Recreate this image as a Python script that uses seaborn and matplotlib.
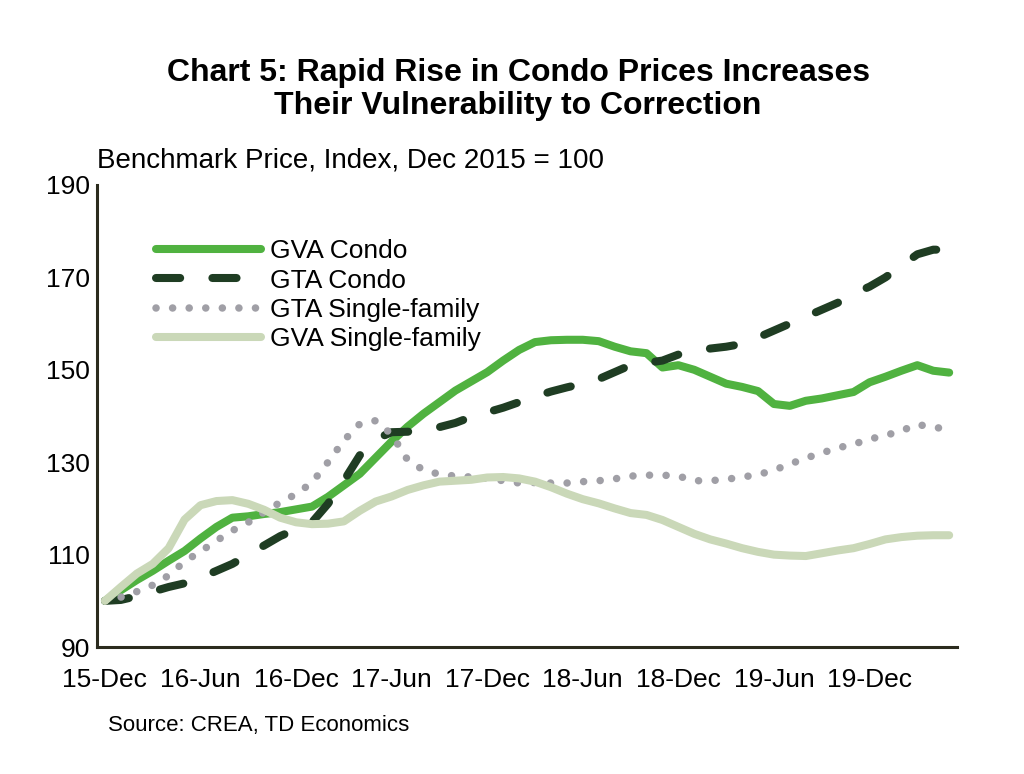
import numpy as np
import pandas as pd
import matplotlib

matplotlib.use("Agg")
import matplotlib.pyplot as plt
import seaborn as sns

# monthly index, Dec 2015 = 100 (Dec 2015 .. May 2020)
gva_condo = [100, 102.3, 104.5, 106.5, 108.7, 110.8, 113.5, 116, 118, 118.3,
             118.8, 119.2, 119.8, 120.4, 122.5, 125, 127.5, 131, 134.5, 137.7,
             140.5, 143, 145.5, 147.5, 149.5, 152, 154.3, 156, 156.4, 156.5,
             156.5, 156.2, 155, 154, 153.6, 150.5, 151, 150, 148.5, 147,
             146.3, 145.4, 142.6, 142.2, 143.3, 143.8, 144.5, 145.2, 147.3, 148.5,
             149.8, 151, 149.8, 149.4]
gta_condo = [100, 100.2, 101, 102, 103, 103.8, 105, 106.5, 108, 110,
             112, 114, 115.5, 117, 121, 126, 131.5, 135, 136.5, 136.6,
             137, 137.6, 138.5, 139.8, 140.8, 141.8, 143, 144.2, 145.3, 146.2,
             147, 148, 149.5, 151, 151.5, 152, 153.3, 154, 154.6, 155,
             155.6, 157, 158.5, 160, 161.5, 163, 164.5, 166.5, 168, 170,
             172.5, 175, 176, 176]
gta_sf = [100, 100.8, 102, 103.4, 105.5, 108.5, 110.7, 113, 115.2, 117,
          119.2, 121.3, 123.1, 125.6, 130, 134.7, 138.3, 139, 136, 130.5,
          128.3, 127.4, 127, 126.8, 126.5, 126, 125.5, 125.6, 125.5, 125.5,
          125.8, 126, 126.4, 127, 127.2, 127.2, 127, 126, 126, 126.3,
          126.8, 127.3, 128.3, 129.6, 130.9, 132, 133.1, 133.9, 135, 135.8,
          136.8, 138.2, 137.5, 137.3]
gva_sf = [100, 103, 105.9, 108, 111.4, 117.6, 120.7, 121.6, 121.8, 121,
          119.7, 118, 117, 116.6, 116.7, 117.2, 119.5, 121.5, 122.6, 124,
          125, 125.8, 126, 126.2, 126.7, 126.8, 126.5, 125.8, 124.6, 123.2,
          122, 121.1, 120, 119, 118.6, 117.5, 116, 114.5, 113.3, 112.4,
          111.4, 110.6, 110, 109.8, 109.7, 110.3, 110.9, 111.4, 112.3, 113.3,
          113.8, 114.1, 114.2, 114.2]

months = np.arange(len(gva_condo))
tick_pos = [0, 6, 12, 18, 24, 30, 36, 42, 48]
tick_labels = ["15-Dec", "16-Jun", "16-Dec", "17-Jun", "17-Dec",
               "18-Jun", "18-Dec", "19-Jun", "19-Dec"]

sns.set_theme(style="white")
plt.rcParams["font.family"] = ["Liberation Sans", "DejaVu Sans"]
plt.rcParams["text.color"] = "black"

fig = plt.figure(figsize=(10.24, 7.74), dpi=100)
ax = fig.add_axes([0.0947, 0.164, 0.84, 0.597])

series = [
    ("GVA Condo", gva_condo, "#50B240", 5.8, None),
    ("GTA Condo", gta_condo, "#1F3D23", 5.8, (3.0, 4.0)),
    ("GTA Single-family", gta_sf, "#A09FA6", 5.4, (0.01, 2.2)),
    ("GVA Single-family", gva_sf, "#CAD8B8", 5.8, None),
]

for name, vals, color, lw, dash in series:
    sns.lineplot(x=months, y=vals, ax=ax, color=color, linewidth=lw, label=name)
    line = ax.get_lines()[-1]
    line.set_solid_capstyle("round")
    line.set_dash_capstyle("round")
    if dash is not None:
        line.set_dashes(dash)

ax.set_xlim(-0.5, 53.5)
ax.set_ylim(90, 190)
ax.set_yticks(range(90, 191, 20))
ax.set_xticks(tick_pos)
ax.set_xticklabels(tick_labels)
ax.tick_params(axis="both", labelsize=19, length=0, colors="black")
ax.tick_params(axis="x", pad=15)
ax.tick_params(axis="y", pad=5)
ax.set_xlabel("")
ax.set_ylabel("")

sns.despine(ax=ax)
for s in ["left", "bottom"]:
    ax.spines[s].set_color("#2B2B1E")
    ax.spines[s].set_linewidth(2.2)

leg = ax.legend(loc="upper left", bbox_to_anchor=(0.056, 0.905), frameon=False,
                fontsize=19, handlelength=4.0, handletextpad=0.35,
                labelspacing=0.2, borderaxespad=0)
for t in leg.get_texts():
    t.set_color("black")

fig.text(0.506, 0.884, "Chart 5: Rapid Rise in Condo Prices Increases\nTheir Vulnerability to Correction",
         ha="center", va="center", fontsize=23, fontweight="bold", linespacing=1.12)
fig.text(0.095, 0.792, "Benchmark Price, Index, Dec 2015 = 100",
         ha="left", va="center", fontsize=20)
fig.text(0.105, 0.063, "Source: CREA, TD Economics",
         ha="left", va="center", fontsize=16)

fig.savefig("out.png", dpi=100)
